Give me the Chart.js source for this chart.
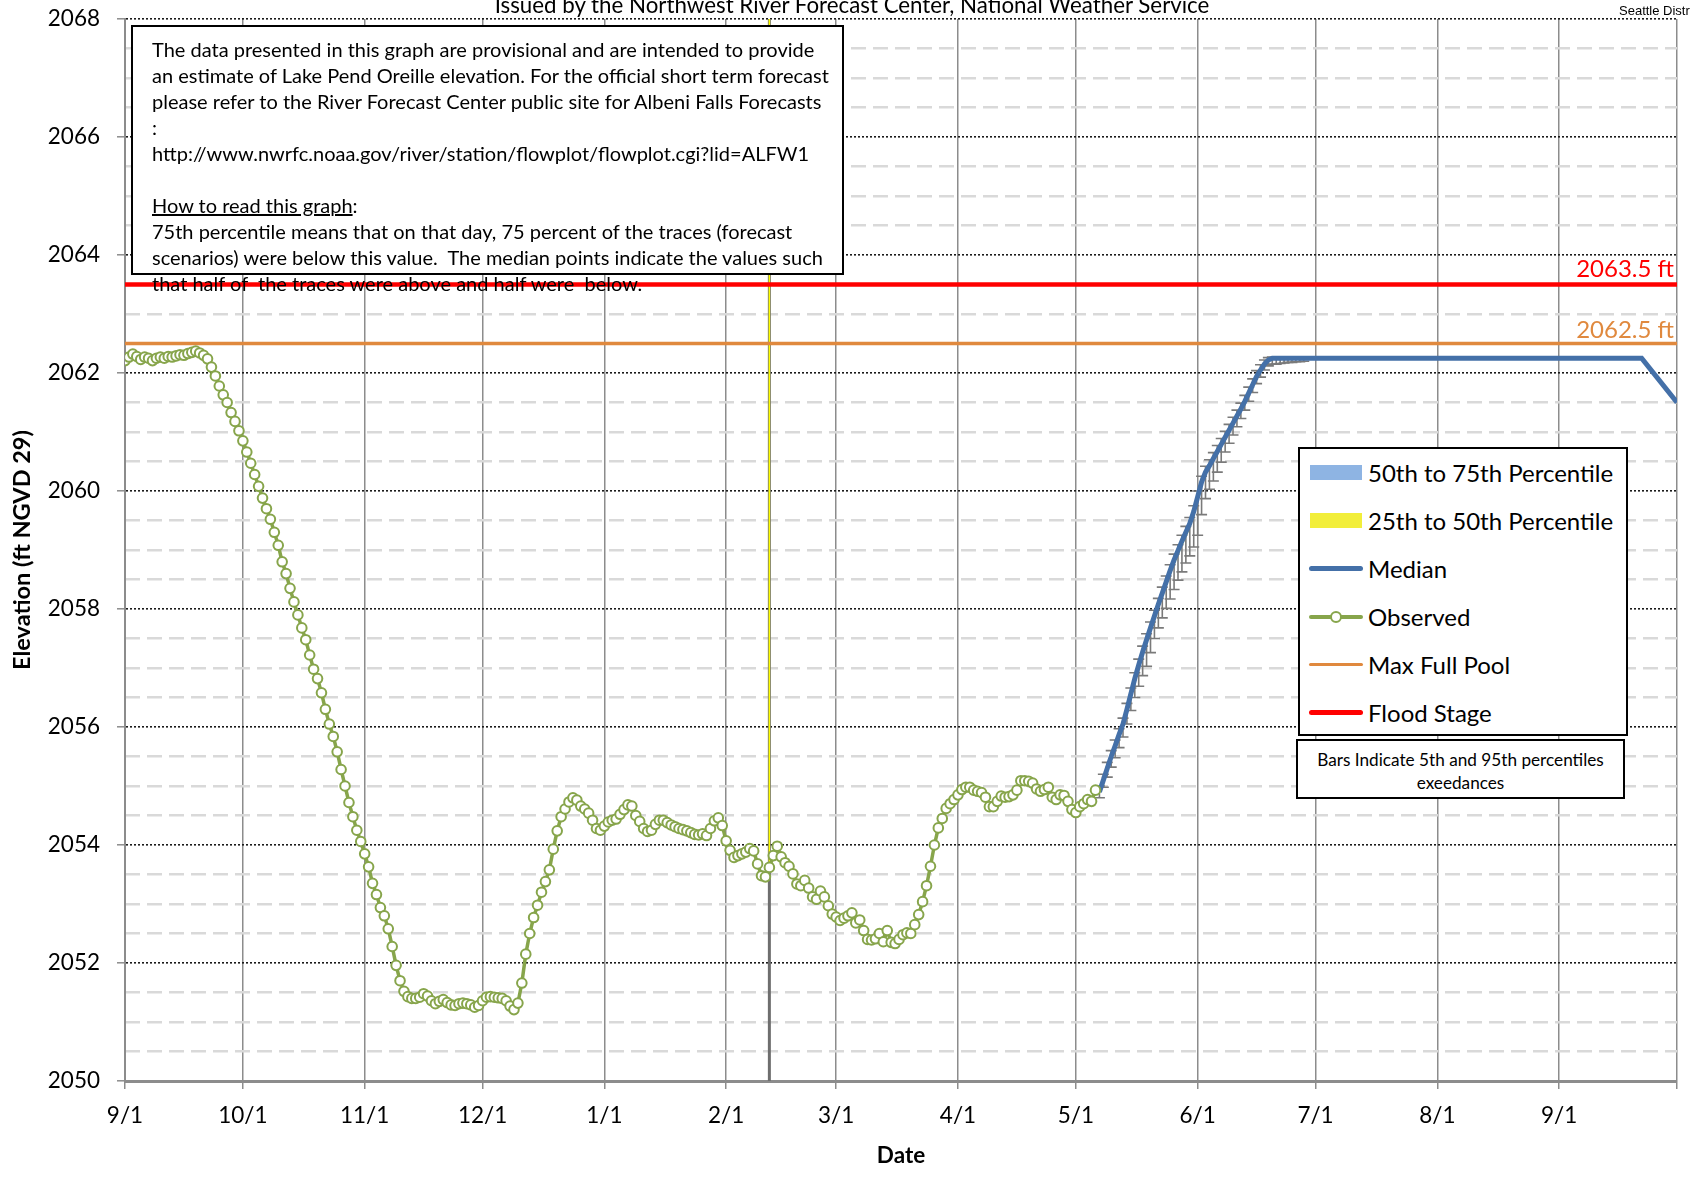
<!DOCTYPE html>
<html>
<head>
<meta charset="utf-8">
<title>Lake Pend Oreille Elevation</title>
<script src="https://cdn.jsdelivr.net/npm/chart.js@4.4.1/dist/chart.umd.min.js"></script>
<style>
  html, body { margin: 0; padding: 0; background: #fff; }
  body { width: 1690px; height: 1177px; position: relative; overflow: hidden; font-family: Lato, 'Noto Sans', sans-serif; color: #000; }
  #chart { position: absolute; left: 0; top: 0; }
  .issued { position: absolute; left: 0; top: -6px; width: 1704px; text-align: center; font-size: 22.3px; line-height: 22px; white-space: nowrap; }
  .org { position: absolute; left: 1619px; top: 3px; font: 13px 'Liberation Sans', Arial, sans-serif; white-space: nowrap; }
  .note { position: absolute; left: 131px; top: 25px; width: 713px; height: 250px; box-sizing: border-box; border: 2px solid #000; background: #fff; padding: 9px 0 0 19px; font-size: 20px; line-height: 26px; white-space: pre; overflow: visible; }
  .legend { position: absolute; left: 1298px; top: 447px; width: 330px; height: 289px; box-sizing: border-box; border: 2px solid #000; background: #fff; }
  .row { height: 47.9px; display: flex; align-items: center; font-size: 24px; white-space: nowrap; }
  .sw { position: relative; width: 54px; height: 20px; margin-left: 9px; margin-right: 5px; flex: none; }
  .rect { position: absolute; left: 1px; top: 2.5px; width: 52px; height: 15px; }
  .ln { position: absolute; left: 0; width: 54px; top: 50%; }
  .dot { position: absolute; left: 21px; top: 4px; width: 8px; height: 8px; border-radius: 50%; background: #fff; }
  .bars { position: absolute; left: 1296px; top: 739px; width: 329px; height: 60px; box-sizing: border-box; border: 2px solid #000; background: #fff; text-align: center; font-size: 17.2px; line-height: 22.6px; padding-top: 8px; white-space: nowrap; }
</style>
</head>
<body>
<canvas id="chart" width="1690" height="1177"></canvas>
<div class="issued">Issued by the Northwest River Forecast Center, National Weather Service</div>
<div class="org">Seattle District</div>
<div class="note">The data presented in this graph are provisional and are intended to provide
an estimate of Lake Pend Oreille elevation. For the official short term forecast
please refer to the River Forecast Center public site for Albeni Falls Forecasts
:
http://www.nwrfc.noaa.gov/river/station/flowplot/flowplot.cgi?lid=ALFW1

<u>How to read this graph</u>:
75th percentile means that on that day, 75 percent of the traces (forecast
scenarios) were below this value.  The median points indicate the values such
that half of  the traces were above and half were  below.</div>
<div class="legend">
  <div class="row"><div class="sw"><div class="rect" style="background:#8eb4e3"></div></div>50th to 75th Percentile</div>
  <div class="row"><div class="sw"><div class="rect" style="background:#f2ee3a"></div></div>25th to 50th Percentile</div>
  <div class="row"><div class="sw"><div class="ln" style="height:5px;margin-top:-2.5px;border-radius:3px;background:#4470a8"></div></div>Median</div>
  <div class="row"><div class="sw"><div class="ln" style="height:4px;margin-top:-2px;border-radius:2px;background:#87a54b"></div><div class="dot" style="border:2px solid #87a54b"></div></div>Observed</div>
  <div class="row"><div class="sw"><div class="ln" style="height:3.5px;margin-top:-1.75px;border-radius:2px;background:#e0893e"></div></div>Max Full Pool</div>
  <div class="row"><div class="sw"><div class="ln" style="height:5px;margin-top:-2.5px;border-radius:3px;background:#ff0000"></div></div>Flood Stage</div>
</div>
<div class="bars">Bars Indicate 5th and 95th percentiles<br>exeedances</div>
<script>
// days counted from 9/1
const X_MAX = 395
const MONTH_TICK_DAYS = [0, 30, 61, 91, 122, 153, 181, 212, 242, 273, 303, 334, 365, 395]
const MONTH_TICK_LABELS = ['9/1', '10/1', '11/1', '12/1', '1/1', '2/1', '3/1', '4/1', '5/1', '6/1', '7/1', '8/1', '9/1', '']
const ELEV_TICKS = [2050, 2052, 2054, 2056, 2058, 2060, 2062, 2064, 2066, 2068]

const FLOOD_STAGE = 2063.5
const MAX_FULL_POOL = 2062.5
const MARKER_DAY = 164
const MARKER_OBS = 2053.7

// observed elevation, one value per day starting 9/1
const observed = [
  2062.21, 2062.27, 2062.32, 2062.28, 2062.23, 2062.27, 2062.25, 2062.21, 2062.25, 2062.27,
  2062.25, 2062.28, 2062.27, 2062.29, 2062.31, 2062.30, 2062.33, 2062.35, 2062.37, 2062.34,
  2062.30, 2062.24, 2062.10, 2061.95, 2061.78, 2061.63, 2061.50, 2061.33, 2061.18, 2061.02,
  2060.85, 2060.66, 2060.47, 2060.28, 2060.08, 2059.88, 2059.70, 2059.52, 2059.30, 2059.08,
  2058.80, 2058.60, 2058.35, 2058.12, 2057.90, 2057.68, 2057.48, 2057.22, 2056.98, 2056.82,
  2056.58, 2056.30, 2056.05, 2055.84, 2055.58, 2055.28, 2055.00, 2054.72, 2054.48, 2054.25,
  2054.06, 2053.85, 2053.63, 2053.35, 2053.16, 2052.94, 2052.80, 2052.58, 2052.28, 2051.96,
  2051.70, 2051.52, 2051.43, 2051.40, 2051.40, 2051.42, 2051.48, 2051.44, 2051.36, 2051.31,
  2051.35, 2051.38, 2051.33, 2051.29, 2051.28, 2051.31, 2051.32, 2051.31, 2051.29, 2051.25,
  2051.28, 2051.36, 2051.42, 2051.43, 2051.42, 2051.41, 2051.40, 2051.36, 2051.27, 2051.21,
  2051.32, 2051.66, 2052.15, 2052.50, 2052.77, 2052.98, 2053.20, 2053.38, 2053.58, 2053.93,
  2054.24, 2054.48, 2054.61, 2054.73, 2054.80, 2054.76, 2054.66, 2054.61, 2054.54, 2054.42,
  2054.28, 2054.25, 2054.32, 2054.39, 2054.42, 2054.44, 2054.52, 2054.60, 2054.68, 2054.66,
  2054.50, 2054.40, 2054.28, 2054.23, 2054.25, 2054.35, 2054.42, 2054.42, 2054.38, 2054.34,
  2054.31, 2054.28, 2054.26, 2054.24, 2054.21, 2054.18, 2054.17, 2054.19, 2054.16, 2054.28,
  2054.41, 2054.46, 2054.33, 2054.07, 2053.91, 2053.79, 2053.82, 2053.85, 2053.88, 2053.94,
  2053.90, 2053.68, 2053.48, 2053.46, 2053.62, 2053.82, 2053.98, 2053.80, 2053.70, 2053.64,
  2053.51, 2053.34, 2053.31, 2053.40, 2053.27, 2053.12, 2053.08, 2053.22, 2053.12, 2052.97,
  2052.83, 2052.78, 2052.72, 2052.76, 2052.80, 2052.85, 2052.68, 2052.73, 2052.55, 2052.40,
  2052.39, 2052.41, 2052.50, 2052.36, 2052.55, 2052.35, 2052.33, 2052.40, 2052.48, 2052.51,
  2052.50, 2052.65, 2052.82, 2053.04, 2053.31, 2053.64, 2054.00, 2054.29, 2054.45, 2054.62,
  2054.70, 2054.77, 2054.85, 2054.94, 2054.98, 2054.98, 2054.93, 2054.91, 2054.89, 2054.81,
  2054.65, 2054.65, 2054.74, 2054.83, 2054.81, 2054.82, 2054.85, 2054.93, 2055.09, 2055.09,
  2055.08, 2055.05, 2054.95, 2054.91, 2054.94, 2054.98, 2054.81, 2054.77, 2054.85, 2054.84,
  2054.74, 2054.60, 2054.55, 2054.65, 2054.70, 2054.77, 2054.74, 2054.93,
]

const forecastDays = [
  248, 249, 250, 251, 252, 253, 254, 255, 256, 257,
  258, 259, 260, 261, 262, 263, 264, 265, 266, 267,
  268, 269, 270, 271, 272, 273, 274, 275, 276, 277,
  278, 279, 280, 281, 282, 283, 284, 285, 286, 287,
  288, 289, 290, 291, 292, 293, 294, 295, 296, 297,
  298, 299, 300, 386, 395,
]
const median = [
  2054.90, 2055.10, 2055.30, 2055.50, 2055.68, 2055.87, 2056.05, 2056.30, 2056.56, 2056.82,
  2057.05, 2057.27, 2057.48, 2057.68, 2057.88, 2058.08, 2058.27, 2058.46, 2058.65, 2058.83,
  2058.99, 2059.15, 2059.30, 2059.45, 2059.65, 2059.90, 2060.15, 2060.32, 2060.43, 2060.55,
  2060.67, 2060.79, 2060.91, 2061.03, 2061.15, 2061.27, 2061.39, 2061.52, 2061.66, 2061.80,
  2061.94, 2062.05, 2062.15, 2062.22, 2062.25, 2062.25, 2062.25, 2062.25, 2062.25, 2062.25,
  2062.25, 2062.25, 2062.25, 2062.25, 2061.50,
]
const pct75 = [
  2054.93, 2055.13, 2055.33, 2055.53, 2055.71, 2055.90, 2056.08, 2056.33, 2056.59, 2056.85,
  2057.08, 2057.30, 2057.51, 2057.71, 2057.91, 2058.11, 2058.30, 2058.49, 2058.68, 2058.86,
  2059.02, 2059.18, 2059.33, 2059.48, 2059.68, 2059.93, 2060.18, 2060.35, 2060.46, 2060.58,
  2060.70, 2060.82, 2060.94, 2061.06, 2061.18, 2061.30, 2061.42, 2061.55, 2061.69, 2061.83,
  2061.97, 2062.07, 2062.17, 2062.23, 2062.25, 2062.25, 2062.25, 2062.25, 2062.25, 2062.25,
  2062.25, 2062.25, 2062.25, 2062.25, 2061.50,
]
const pct25 = [
  2054.85, 2055.05, 2055.25, 2055.45, 2055.63, 2055.82, 2056.00, 2056.25, 2056.51, 2056.77,
  2056.95, 2057.17, 2057.38, 2057.58, 2057.78, 2057.98, 2058.17, 2058.36, 2058.55, 2058.73,
  2058.89, 2059.05, 2059.20, 2059.35, 2059.55, 2059.80, 2060.05, 2060.27, 2060.38, 2060.50,
  2060.62, 2060.74, 2060.86, 2060.98, 2061.10, 2061.22, 2061.34, 2061.47, 2061.61, 2061.75,
  2061.89, 2062.01, 2062.12, 2062.20, 2062.24, 2062.25, 2062.25, 2062.25, 2062.25, 2062.25,
  2062.25, 2062.25, 2062.25, 2062.25, 2061.50,
]
const pct95 = [
  2055.00, 2055.20, 2055.40, 2055.60, 2055.78, 2055.97, 2056.15, 2056.40, 2056.66, 2056.92,
  2057.15, 2057.37, 2057.58, 2057.78, 2057.98, 2058.18, 2058.37, 2058.56, 2058.75, 2058.93,
  2059.09, 2059.25, 2059.40, 2059.55, 2059.75, 2060.00, 2060.25, 2060.42, 2060.53, 2060.65,
  2060.77, 2060.89, 2061.01, 2061.13, 2061.25, 2061.37, 2061.49, 2061.62, 2061.76, 2061.90,
  2062.04, 2062.14, 2062.22, 2062.26, 2062.27, 2062.27, 2062.27, 2062.27, 2062.27, 2062.27,
  2062.27, 2062.27, 2062.27, null, null,
]
const pct5 = [
  2054.80, 2054.98, 2055.15, 2055.32, 2055.48, 2055.65, 2055.83, 2056.05, 2056.28, 2056.50,
  2056.69, 2056.87, 2057.03, 2057.26, 2057.50, 2057.68, 2057.85, 2058.01, 2058.17, 2058.33,
  2058.49, 2058.63, 2058.78, 2058.90, 2059.05, 2059.25, 2059.60, 2059.87, 2060.03, 2060.17,
  2060.32, 2060.49, 2060.66, 2060.81, 2060.95, 2061.09, 2061.23, 2061.37, 2061.52, 2061.67,
  2061.82, 2061.93, 2062.05, 2062.12, 2062.15, 2062.15, 2062.16, 2062.17, 2062.18, 2062.18,
  2062.19, 2062.19, 2062.20, null, null,
]

const GREEN = '#87a54b'
const BLUE = '#4470a8'
const ORANGE = '#e0893e'
const RED = '#ff0000'
const GRID_GRAY = '#8c8c8c'

Chart.defaults.font.family = "Lato, 'Noto Sans', sans-serif"
Chart.defaults.color = '#000'

const toPoints = (days, vals) => days.map((d, i) => ({ x: d, y: vals[i] }))
const flat = (v) => [{ x: 0, y: v }, { x: X_MAX, y: v }]

// 5th-95th whiskers, drawn just after the yellow band so the median sits on top
const errorBars = {
  id: 'errorBars',
  afterDatasetDraw(chart, args) {
    if (args.meta.label !== '25th to 50th Percentile') return
    const { ctx, scales: { x, y } } = chart
    ctx.save()
    ctx.strokeStyle = '#7a7a7a'
    ctx.lineWidth = 1.6
    forecastDays.forEach((d, i) => {
      if (pct5[i] == null || pct95[i] == null) return
      const px = x.getPixelForValue(d)
      const top = y.getPixelForValue(pct95[i])
      const bot = y.getPixelForValue(pct5[i])
      ctx.beginPath()
      ctx.moveTo(px, top); ctx.lineTo(px, bot)
      ctx.moveTo(px - 5.5, top); ctx.lineTo(px + 5.5, top)
      ctx.moveTo(px - 5.5, bot); ctx.lineTo(px + 5.5, bot)
      ctx.stroke()
    })
    ctx.restore()
  },
}

const levelLabels = {
  id: 'levelLabels',
  afterDatasetsDraw(chart) {
    const { ctx, chartArea, scales: { y } } = chart
    ctx.save()
    ctx.font = "24px Lato, 'Noto Sans', sans-serif"
    ctx.textAlign = 'right'
    ctx.textBaseline = 'alphabetic'
    ctx.fillStyle = RED
    ctx.fillText(`${FLOOD_STAGE} ft`, chartArea.right - 3, y.getPixelForValue(FLOOD_STAGE) - 8)
    ctx.fillStyle = ORANGE
    ctx.fillText(`${MAX_FULL_POOL} ft`, chartArea.right - 3, y.getPixelForValue(MAX_FULL_POOL) - 5.5)
    ctx.restore()
  },
}

const config = {
  type: 'line',
  data: {
    datasets: [
      {
        label: 'Observed',
        data: observed.map((v, i) => ({ x: i, y: v })),
        order: 1,
        borderColor: GREEN,
        borderWidth: 3.5,
        pointRadius: 4.8,
        pointBorderWidth: 2,
        pointBackgroundColor: '#fff',
        pointBorderColor: GREEN,
      },
      {
        label: 'Median',
        data: toPoints(forecastDays, median),
        order: 2,
        borderColor: BLUE,
        borderWidth: 5,
        pointRadius: 0,
      },
      {
        label: 'Flood Stage',
        data: flat(FLOOD_STAGE),
        order: 3,
        borderColor: RED,
        borderWidth: 4.5,
        pointRadius: 0,
      },
      {
        label: 'Max Full Pool',
        data: flat(MAX_FULL_POOL),
        order: 4,
        borderColor: ORANGE,
        borderWidth: 3.5,
        pointRadius: 0,
      },
      {
        label: '25th to 50th Percentile',
        data: toPoints(forecastDays, pct25),
        order: 5,
        borderColor: 'rgba(0,0,0,0)',
        backgroundColor: '#f2ee3a',
        fill: { target: 1 },
        pointRadius: 0,
      },
      {
        label: '50th to 75th Percentile',
        data: toPoints(forecastDays, pct75),
        order: 6,
        borderColor: 'rgba(0,0,0,0)',
        backgroundColor: '#8eb4e3',
        fill: { target: 1 },
        pointRadius: 0,
      },
      {
        label: 'marker',
        data: [{ x: MARKER_DAY, y: MARKER_OBS }, { x: MARKER_DAY, y: 2068 }],
        order: 7,
        borderColor: '#ffff00',
        borderWidth: 1.5,
        pointRadius: 0,
      },
      {
        label: 'marker edge',
        data: [{ x: MARKER_DAY, y: 2050 }, { x: MARKER_DAY, y: 2068 }],
        order: 8,
        borderColor: '#6e6e6e',
        borderWidth: 3,
        pointRadius: 0,
      },
    ],
  },
  options: {
    responsive: false,
    devicePixelRatio: 1,
    animation: false,
    events: [],
    layout: { padding: { top: 19, right: 13, left: 0, bottom: 0 } },
    plugins: {
      legend: { display: false },
      tooltip: { enabled: false },
    },
    scales: {
      x: {
        type: 'linear',
        min: 0,
        max: X_MAX,
        afterBuildTicks: (s) => { s.ticks = MONTH_TICK_DAYS.map(v => ({ value: v })) },
        afterFit: (s) => { s.height = 96; s.paddingLeft = 0; s.paddingRight = 0 },
        ticks: {
          autoSkip: false,
          maxRotation: 0,
          padding: 13,
          font: { size: 22.5 },
          callback: (v, i) => MONTH_TICK_LABELS[i],
        },
        grid: { color: GRID_GRAY, lineWidth: 1.5, tickLength: 8, tickColor: GRID_GRAY },
        border: { color: GRID_GRAY, width: 3 },
        title: {
          display: true,
          text: 'Date',
          font: { size: 22.5, weight: 'bold' },
          padding: { top: 0, bottom: 8 },
        },
      },
      y: {
        type: 'linear',
        position: 'left',
        min: 2050,
        max: 2068,
        afterBuildTicks: (s) => { s.ticks = ELEV_TICKS.map(v => ({ value: v })) },
        afterFit: (s) => { s.width = 125; s.paddingTop = 0; s.paddingBottom = 0 },
        ticks: { padding: 17, font: { size: 22.5 }, callback: (v) => String(v) },
        grid: { color: '#1a1a1a', lineWidth: 1.6, tickLength: 8, tickColor: GRID_GRAY, tickWidth: 1.5 },
        border: { color: GRID_GRAY, width: 2, dash: [2, 2] },
        title: {
          display: true,
          text: 'Elevation (ft NGVD 29)',
          font: { size: 23.5, weight: 'bold' },
          padding: { top: 8, bottom: 0 },
        },
      },
      yMinor: {
        type: 'linear',
        position: 'right',
        min: 2050,
        max: 2068,
        afterFit: (s) => { s.width = 0; s.paddingTop = 0; s.paddingBottom = 0 },
        ticks: { display: false, stepSize: 0.5 },
        grid: {
          drawTicks: false,
          lineWidth: 2.4,
          color: (ctx) => (ctx.tick && ctx.tick.value % 2 === 0) ? 'rgba(0,0,0,0)' : '#d9d9d9',
        },
        border: { display: false, dash: [15, 7] },
      },
    },
  },
  plugins: [errorBars, levelLabels],
}

new Chart(document.getElementById('chart'), config)
</script>
</body>
</html>
